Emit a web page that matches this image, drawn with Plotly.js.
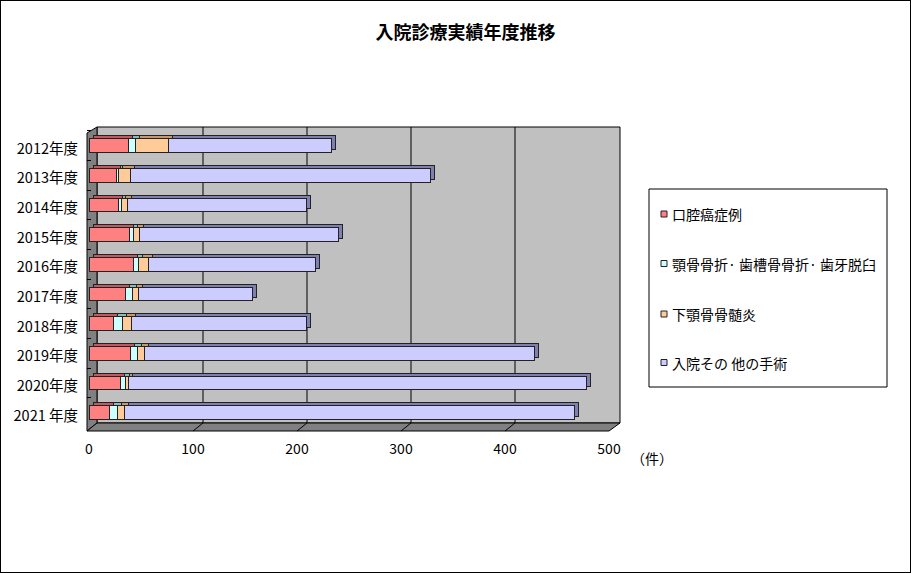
<!DOCTYPE html>
<html>
<head>
<meta charset="utf-8">
<script src="https://cdn.plot.ly/plotly-3.0.1.min.js"></script>
<style>
  body { margin: 0; background: #fff; }
  #chart { width: 911px; height: 573px; border: 1px solid #000; box-sizing: border-box; }
</style>
</head>
<body>
<div id="chart"></div>
<script>
// data (件)
const years = ["2012年度", "2013年度", "2014年度", "2015年度", "2016年度",
               "2017年度", "2018年度", "2019年度", "2020年度", "2021 年度"];
const oralCancer = [38, 26, 28, 39, 43, 35, 24, 40, 30, 20];
const fracture   = [7, 2, 3, 4, 5, 7, 8, 7, 5, 7];
const osteo      = [31, 12, 6, 6, 9, 6, 9, 6, 3, 7];
const otherSurg  = [157, 288, 172, 191, 161, 109, 168, 375, 440, 433];
const xTicks = [0, 100, 200, 300, 400, 500];

const seriesNames = ["口腔癌症例", "顎骨骨折· 歯槽骨骨折· 歯牙脱臼", "下顎骨骨髄炎", "入院その 他の手術"];
const seriesValues = [oralCancer, fracture, osteo, otherSurg];
const faceColors = ["#ff8080", "#ccffff", "#ffcc99", "#ccccff"];
const sideColors = ["#c05a60", "#88bcbc", "#c8986a", "#8080b0"];

const font = "'Noto Sans CJK JP', 'Noto Sans', sans-serif";

// pixel helpers (image coords -> paper coords of plot area)
const L = 87, R = 620, T = 127, B = 431;
const px = X => (X - L) / (R - L);
const py = Y => (B - Y) / (B - T);
const x0pix = 89, pxPerUnit = 1.04;
const xRange = [(L - x0pix) / pxPerUnit, (R - x0pix) / pxPerUnit];
const catPx = 29.7, cat0 = 145.5;
const yRange = [(B - cat0) / catPx, (T - cat0) / catPx];
const dxBar = 4 / pxPerUnit, dyBar = 3 / catPx;

const traces = [];
// bar depth (drawn behind, shifted up-right)
seriesValues.forEach((vals, i) => {
  traces.push({
    type: "bar", orientation: "h", y: years, x: vals, width: 0.46,
    xaxis: "x", yaxis: "y", showlegend: false, hoverinfo: "skip",
    marker: { color: sideColors[i], line: { color: "#222", width: 1 } }
  });
});
// front faces
seriesValues.forEach((vals, i) => {
  traces.push({
    type: "bar", orientation: "h", y: years, x: vals, width: 0.46,
    name: seriesNames[i], showlegend: false,
    xaxis: "x2", yaxis: "y2",
    marker: { color: faceColors[i], line: { color: "#222", width: 1 } }
  });
});

const shapes = [];
const poly = (pts, fill) => ({
  type: "path", xref: "paper", yref: "paper", layer: "below",
  path: "M" + pts.map(p => px(p[0]) + "," + py(p[1])).join("L") + "Z",
  fillcolor: fill, line: { color: "#000", width: 1 }
});
// back wall, left wall, floor
shapes.push(poly([[97, 127], [620, 127], [620, 423], [97, 423]], "#c0c0c0"));
shapes.push(poly([[87, 133], [97, 127], [97, 423], [87, 431]], "#808080"));
shapes.push(poly([[87, 431], [97, 423], [620, 423], [609, 431]], "#808080"));
// grid on back wall + floor ticks
xTicks.slice(1, -1).forEach(v => {
  const xf = x0pix + v * pxPerUnit;
  shapes.push({ type: "line", xref: "paper", yref: "paper", layer: "below",
    x0: px(xf + 10), x1: px(xf + 10), y0: py(423), y1: py(127),
    line: { color: "#000", width: 1 } });
  shapes.push({ type: "line", xref: "paper", yref: "paper", layer: "below",
    x0: px(xf), x1: px(xf + 10), y0: py(431), y1: py(423),
    line: { color: "#000", width: 1 } });
});
// legend box, drawn by hand so the swatches sit tight to the text
shapes.push({ type: "rect", xref: "paper", yref: "paper", layer: "below",
  x0: px(649), x1: px(887), y0: py(387), y1: py(189),
  fillcolor: "#fff", line: { color: "#000", width: 1 } });
const legendY = [214, 263.5, 314, 362.5];
const annotations = [];
seriesNames.forEach((name, i) => {
  shapes.push({ type: "rect", xref: "paper", yref: "paper", layer: "above",
    x0: px(661), x1: px(667), y0: py(legendY[i] + 3), y1: py(legendY[i] - 3),
    fillcolor: faceColors[i], line: { color: "#222", width: 1 } });
  annotations.push({ text: name, xref: "paper", yref: "paper",
    x: px(670), y: py(legendY[i]), xanchor: "left", yanchor: "middle",
    showarrow: false, font: { size: 14, family: font, color: "#000" } });
});
annotations.push({ text: "（件）", xref: "paper", yref: "paper",
  x: px(652), y: py(458), xanchor: "center", yanchor: "middle",
  showarrow: false, font: { size: 14, family: font } });

const layout = {
  width: 909, height: 571,
  margin: { l: L - 1, r: 909 - (R - 1), t: T - 1, b: 571 - (B - 1) },
  paper_bgcolor: "#fff", plot_bgcolor: "rgba(0,0,0,0)",
  barmode: "stack", bargap: 0, showlegend: false,
  font: { family: font, size: 14, color: "#000" },
  title: { text: "<b>入院診療実績年度推移</b>", x: 0.511, xanchor: "center",
           y: 1 - 32 / 571, yanchor: "middle", yref: "container",
           font: { family: font, size: 18, color: "#000" } },
  xaxis: { range: [xRange[0] - dxBar, xRange[1] - dxBar], visible: false, fixedrange: true },
  yaxis: { type: "category", categoryorder: "array", categoryarray: years,
           range: [yRange[0] + dyBar, yRange[1] + dyBar], visible: false, fixedrange: true },
  xaxis2: { overlaying: "x", anchor: "y2", side: "bottom", range: xRange,
            tickmode: "array", tickvals: xTicks,
            showgrid: false, zeroline: false, showline: false, ticks: "",
            ticklabelstandoff: 8, tickfont: { size: 14 } },
  yaxis2: { overlaying: "y", anchor: "x2", type: "category", categoryorder: "array",
            categoryarray: years, range: yRange,
            showgrid: false, zeroline: false, showline: false,
            ticks: "inside", tickson: "boundaries", ticklen: 4, tickcolor: "#000",
            ticklabelstandoff: 8, ticklabelshift: -3, tickfont: { size: 14.5 } },
  shapes: shapes,
  annotations: annotations
};

Plotly.newPlot("chart", traces, layout, { displayModeBar: false, staticPlot: true });
</script>
</body>
</html>
